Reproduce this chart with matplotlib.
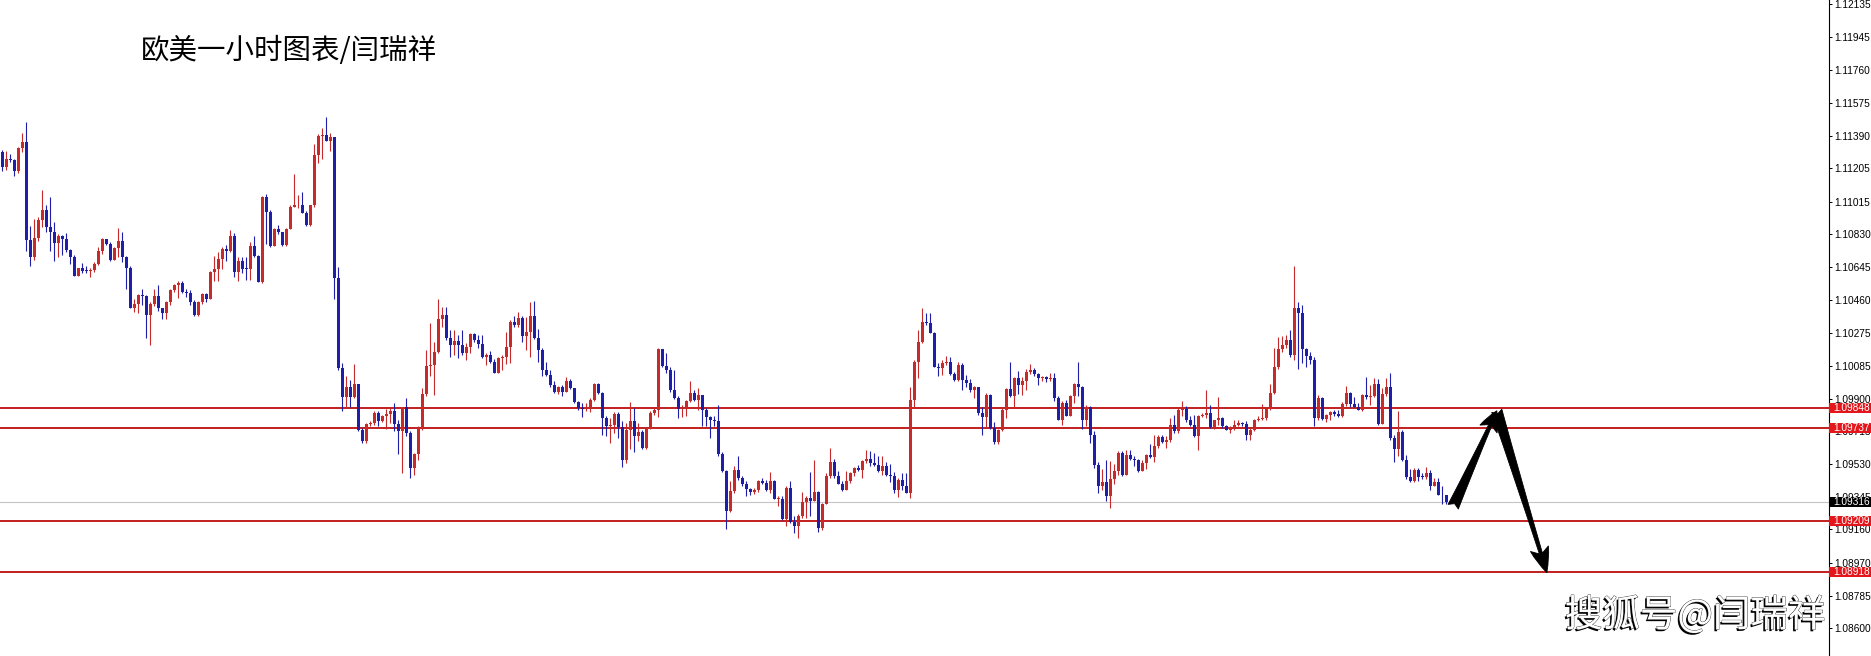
import matplotlib
matplotlib.use('Agg')
import matplotlib.pyplot as plt
import matplotlib.patheffects as pe
import matplotlib.transforms as mtransforms
from matplotlib.patches import Rectangle
import numpy as np

plt.rcParams['font.family'] = ['Noto Sans CJK SC', 'DejaVu Sans']

TITLE = '欧美一小时图表/闫瑞祥'
WATERMARK = '搜狐号@闫瑞祥'

# EURUSD H1 candles (open = previous close)
first_open = 1.11295
closes = [
    1.11214, 1.11257, 1.11251, 1.11191, 1.11317, 1.11355, 1.10796, 1.10702, 1.10811, 1.10909,
    1.10971, 1.10872, 1.10843, 1.10783, 1.10821, 1.10806, 1.10740, 1.10702, 1.10595, 1.10642,
    1.10623, 1.10621, 1.10627, 1.10665, 1.10736, 1.10802, 1.10778, 1.10687, 1.10755, 1.10791,
    1.10702, 1.10640, 1.10415, 1.10439, 1.10486, 1.10481, 1.10373, 1.10439, 1.10482, 1.10411,
    1.10388, 1.10449, 1.10514, 1.10546, 1.10558, 1.10505, 1.10496, 1.10449, 1.10373, 1.10449,
    1.10492, 1.10467, 1.10618, 1.10637, 1.10689, 1.10746, 1.10736, 1.10819, 1.10618, 1.10680,
    1.10637, 1.10633, 1.10764, 1.10708, 1.10561, 1.11041, 1.10956, 1.10764, 1.10862, 1.10843,
    1.10768, 1.10862, 1.10988, 1.10994, 1.10998, 1.10951, 1.10881, 1.10994, 1.11281, 1.11389,
    1.11392, 1.11360, 1.11383, 1.10586, 1.10073, 1.09909, 1.09969, 1.09909, 1.09984, 1.09721,
    1.09659, 1.09757, 1.09762, 1.09819, 1.09772, 1.09800, 1.09813, 1.09828, 1.09759, 1.09715,
    1.09851, 1.09706, 1.09509, 1.09589, 1.09734, 1.09928, 1.10086, 1.10091, 1.10163, 1.10349,
    1.10373, 1.10242, 1.10204, 1.10227, 1.10204, 1.10157, 1.10191, 1.10266, 1.10232, 1.10210,
    1.10135, 1.10148, 1.10110, 1.10048, 1.10129, 1.10138, 1.10191, 1.10336, 1.10317, 1.10355,
    1.10257, 1.10279, 1.10368, 1.10242, 1.10176, 1.10063, 1.10035, 1.09979, 1.09941, 1.09965,
    1.09941, 1.10001, 1.09960, 1.09879, 1.09847, 1.09841, 1.09856, 1.09894, 1.09982, 1.09935,
    1.09791, 1.09744, 1.09753, 1.09815, 1.09740, 1.09552, 1.09725, 1.09772, 1.09691, 1.09710,
    1.09621, 1.09734, 1.09819, 1.09834, 1.10180, 1.10086, 1.10063, 1.09950, 1.09903, 1.09843,
    1.09856, 1.09888, 1.09935, 1.09894, 1.09922, 1.09838, 1.09796, 1.09781, 1.09772, 1.09589,
    1.09490, 1.09264, 1.09377, 1.09499, 1.09452, 1.09420, 1.09390, 1.09371, 1.09386, 1.09437,
    1.09424, 1.09386, 1.09433, 1.09334, 1.09334, 1.09221, 1.09396, 1.09202, 1.09180, 1.09236,
    1.09315, 1.09339, 1.09321, 1.09371, 1.09170, 1.09307, 1.09462, 1.09542, 1.09462, 1.09420,
    1.09386, 1.09433, 1.09480, 1.09509, 1.09499, 1.09546, 1.09559, 1.09537, 1.09527, 1.09490,
    1.09518, 1.09471, 1.09462, 1.09386, 1.09443, 1.09405, 1.09368, 1.09894, 1.10110, 1.10223,
    1.10336, 1.10326, 1.10274, 1.10082, 1.10073, 1.10105, 1.10110, 1.10041, 1.10007, 1.10091,
    1.10007, 1.09988, 1.09947, 1.09965, 1.09819, 1.09796, 1.09922, 1.09734, 1.09653, 1.09725,
    1.09838, 1.09954, 1.09913, 1.10016, 1.09979, 1.10003, 1.10054, 1.10063, 1.10041, 1.10016,
    1.10022, 1.10011, 1.10020, 1.09903, 1.09781, 1.09875, 1.09804, 1.09917, 1.09984, 1.09965,
    1.09777, 1.09856, 1.09697, 1.09524, 1.09405, 1.09428, 1.09349, 1.09447, 1.09490, 1.09593,
    1.09471, 1.09584, 1.09559, 1.09552, 1.09490, 1.09537, 1.09584, 1.09571, 1.09631, 1.09683,
    1.09653, 1.09665, 1.09753, 1.09715, 1.09838, 1.09841, 1.09777, 1.09753, 1.09687, 1.09804,
    1.09809, 1.09819, 1.09740, 1.09777, 1.09791, 1.09744, 1.09725, 1.09738, 1.09753, 1.09762,
    1.09757, 1.09697, 1.09725, 1.09777, 1.09785, 1.09791, 1.09841, 1.09935, 1.10078, 1.10180,
    1.10204, 1.10232, 1.10148, 1.10411, 1.10387, 1.10180, 1.10142, 1.10120, 1.09791, 1.09903,
    1.09785, 1.09809, 1.09823, 1.09815, 1.09804, 1.09871, 1.09935, 1.09871, 1.09856, 1.09838,
    1.09922, 1.09909, 1.09917, 1.09984, 1.09759, 1.09928, 1.09965, 1.09678, 1.09616, 1.09710,
    1.09556, 1.09458, 1.09433, 1.09499, 1.09458, 1.09456, 1.09480, 1.09405, 1.09428, 1.09358,
    1.09353, 1.09316,
]
highs = [
    1.11308, 1.11304, 1.11285, 1.11255, 1.11323, 1.11407, 1.11468, 1.10877, 1.10915, 1.10928,
    1.11082, 1.10994, 1.11041, 1.10900, 1.10834, 1.10825, 1.10840, 1.10745, 1.10712, 1.10642,
    1.10669, 1.10652, 1.10640, 1.10674, 1.10759, 1.10810, 1.10806, 1.10787, 1.10759, 1.10866,
    1.10843, 1.10708, 1.10649, 1.10467, 1.10492, 1.10524, 1.10490, 1.10449, 1.10524, 1.10543,
    1.10415, 1.10454, 1.10524, 1.10552, 1.10565, 1.10565, 1.10524, 1.10518, 1.10458, 1.10454,
    1.10499, 1.10501, 1.10623, 1.10708, 1.10731, 1.10759, 1.10772, 1.10857, 1.10838, 1.10702,
    1.10702, 1.10702, 1.10787, 1.10819, 1.10716, 1.11050, 1.11060, 1.10966, 1.10866, 1.10881,
    1.10843, 1.10866, 1.10994, 1.11172, 1.11054, 1.11073, 1.10960, 1.10998, 1.11342, 1.11398,
    1.11432, 1.11492, 1.11404, 1.11383, 1.10646, 1.10101, 1.10026, 1.10007, 1.10097, 1.09984,
    1.09735, 1.09762, 1.09772, 1.09828, 1.09828, 1.09809, 1.09841, 1.09847, 1.09875, 1.09781,
    1.09856, 1.09903, 1.09715, 1.09593, 1.09744, 1.09960, 1.10176, 1.10326, 1.10223, 1.10467,
    1.10420, 1.10420, 1.10289, 1.10289, 1.10261, 1.10289, 1.10214, 1.10270, 1.10274, 1.10261,
    1.10261, 1.10157, 1.10172, 1.10123, 1.10135, 1.10148, 1.10279, 1.10345, 1.10368, 1.10392,
    1.10368, 1.10364, 1.10449, 1.10452, 1.10293, 1.10186, 1.10110, 1.10063, 1.10003, 1.09973,
    1.09979, 1.10022, 1.10010, 1.09960, 1.09885, 1.09875, 1.09875, 1.09903, 1.09988, 1.09992,
    1.09941, 1.09800, 1.09791, 1.09823, 1.09823, 1.09772, 1.09762, 1.09879, 1.09847, 1.09762,
    1.09721, 1.09740, 1.09828, 1.09847, 1.10185, 1.10172, 1.10157, 1.10078, 1.10063, 1.09917,
    1.09866, 1.09894, 1.10003, 1.09950, 1.09960, 1.09898, 1.09847, 1.09804, 1.09800, 1.09866,
    1.09597, 1.09499, 1.09434, 1.09522, 1.09574, 1.09465, 1.09434, 1.09396, 1.09396, 1.09443,
    1.09452, 1.09443, 1.09486, 1.09439, 1.09349, 1.09349, 1.09405, 1.09434, 1.09236, 1.09245,
    1.09371, 1.09349, 1.09484, 1.09552, 1.09377, 1.09311, 1.09477, 1.09621, 1.09559, 1.09490,
    1.09433, 1.09490, 1.09484, 1.09514, 1.09527, 1.09556, 1.09612, 1.09603, 1.09593, 1.09574,
    1.09578, 1.09541, 1.09533, 1.09484, 1.09452, 1.09477, 1.09480, 1.09969, 1.10120, 1.10289,
    1.10411, 1.10383, 1.10387, 1.10279, 1.10101, 1.10120, 1.10142, 1.10138, 1.10054, 1.10110,
    1.10101, 1.10035, 1.10011, 1.09973, 1.09969, 1.09856, 1.09935, 1.09926, 1.09766, 1.09729,
    1.09847, 1.09960, 1.10110, 1.10022, 1.10059, 1.10022, 1.10067, 1.10097, 1.10073, 1.10048,
    1.10029, 1.10029, 1.10048, 1.10048, 1.09913, 1.09885, 1.09894, 1.09922, 1.09988, 1.10110,
    1.09973, 1.09866, 1.09860, 1.09715, 1.09541, 1.09503, 1.09556, 1.09546, 1.09533, 1.09603,
    1.09603, 1.09612, 1.09612, 1.09574, 1.09559, 1.09556, 1.09590, 1.09646, 1.09697, 1.09697,
    1.09697, 1.09687, 1.09791, 1.09809, 1.09847, 1.09885, 1.09860, 1.09804, 1.09809, 1.09809,
    1.09819, 1.09947, 1.09866, 1.09781, 1.09909, 1.09796, 1.09753, 1.09747, 1.09777, 1.09777,
    1.09766, 1.09772, 1.09734, 1.09785, 1.09800, 1.09872, 1.09856, 1.09984, 1.10185, 1.10251,
    1.10255, 1.10261, 1.10289, 1.10650, 1.10449, 1.10430, 1.10185, 1.10167, 1.10135, 1.09922,
    1.09909, 1.09815, 1.09828, 1.09838, 1.09838, 1.09879, 1.09973, 1.09941, 1.09909, 1.09875,
    1.09928, 1.10022, 1.09979, 1.10016, 1.10011, 1.09960, 1.10016, 1.10044, 1.09697, 1.09828,
    1.09721, 1.09584, 1.09503, 1.09509, 1.09509, 1.09480, 1.09514, 1.09496, 1.09452, 1.09452,
    1.09405, 1.09358,
]
lows = [
    1.11187, 1.11197, 1.11242, 1.11159, 1.11176, 1.11295, 1.10736, 1.10652, 1.10687, 1.10793,
    1.10872, 1.10843, 1.10734, 1.10680, 1.10702, 1.10712, 1.10731, 1.10661, 1.10593, 1.10593,
    1.10612, 1.10612, 1.10590, 1.10618, 1.10659, 1.10721, 1.10772, 1.10680, 1.10684, 1.10702,
    1.10674, 1.10520, 1.10411, 1.10392, 1.10388, 1.10430, 1.10246, 1.10204, 1.10426, 1.10398,
    1.10351, 1.10351, 1.10430, 1.10505, 1.10471, 1.10501, 1.10477, 1.10430, 1.10370, 1.10370,
    1.10439, 1.10449, 1.10467, 1.10565, 1.10565, 1.10637, 1.10680, 1.10731, 1.10590, 1.10567,
    1.10612, 1.10571, 1.10571, 1.10702, 1.10561, 1.10556, 1.10774, 1.10759, 1.10764, 1.10834,
    1.10764, 1.10764, 1.10862, 1.10984, 1.10981, 1.10951, 1.10875, 1.10877, 1.10984, 1.11234,
    1.11257, 1.11360, 1.11304, 1.10467, 1.10063, 1.09828, 1.09856, 1.09856, 1.09903, 1.09716,
    1.09650, 1.09650, 1.09747, 1.09753, 1.09747, 1.09766, 1.09729, 1.09762, 1.09716, 1.09589,
    1.09480, 1.09687, 1.09452, 1.09471, 1.09556, 1.09725, 1.09913, 1.10026, 1.09922, 1.10157,
    1.10308, 1.10232, 1.10138, 1.10148, 1.10129, 1.10148, 1.10120, 1.10157, 1.10223, 1.10185,
    1.10129, 1.10091, 1.10105, 1.10044, 1.10044, 1.10063, 1.10097, 1.10105, 1.10308, 1.10308,
    1.10223, 1.10176, 1.10138, 1.10236, 1.10110, 1.10031, 1.10029, 1.09969, 1.09935, 1.09928,
    1.09917, 1.09954, 1.09954, 1.09875, 1.09834, 1.09796, 1.09828, 1.09823, 1.09885, 1.09928,
    1.09697, 1.09691, 1.09650, 1.09706, 1.09678, 1.09514, 1.09537, 1.09616, 1.09597, 1.09659,
    1.09616, 1.09618, 1.09728, 1.09809, 1.09796, 1.10082, 1.10044, 1.09941, 1.09898, 1.09791,
    1.09794, 1.09804, 1.09879, 1.09888, 1.09838, 1.09747, 1.09747, 1.09678, 1.09744, 1.09574,
    1.09484, 1.09165, 1.09259, 1.09368, 1.09443, 1.09405, 1.09349, 1.09358, 1.09362, 1.09371,
    1.09415, 1.09377, 1.09364, 1.09330, 1.09292, 1.09213, 1.09180, 1.09198, 1.09142, 1.09114,
    1.09227, 1.09227, 1.09236, 1.09321, 1.09146, 1.09157, 1.09302, 1.09452, 1.09452, 1.09415,
    1.09377, 1.09382, 1.09424, 1.09462, 1.09490, 1.09452, 1.09537, 1.09518, 1.09518, 1.09484,
    1.09471, 1.09465, 1.09428, 1.09368, 1.09345, 1.09386, 1.09364, 1.09339, 1.09856, 1.10016,
    1.10214, 1.10317, 1.10270, 1.10078, 1.10026, 1.10035, 1.10091, 1.10035, 1.10003, 1.10003,
    1.09947, 1.09965, 1.09941, 1.09903, 1.09809, 1.09697, 1.09740, 1.09729, 1.09646, 1.09646,
    1.09715, 1.09791, 1.09909, 1.09856, 1.09928, 1.09922, 1.09947, 1.10041, 1.10029, 1.09979,
    1.10003, 1.09997, 1.10003, 1.09885, 1.09777, 1.09753, 1.09800, 1.09800, 1.09875, 1.09913,
    1.09729, 1.09744, 1.09650, 1.09509, 1.09364, 1.09386, 1.09321, 1.09283, 1.09415, 1.09471,
    1.09465, 1.09559, 1.09552, 1.09518, 1.09484, 1.09503, 1.09503, 1.09565, 1.09541, 1.09621,
    1.09650, 1.09621, 1.09653, 1.09706, 1.09706, 1.09800, 1.09766, 1.09747, 1.09683, 1.09612,
    1.09796, 1.09791, 1.09734, 1.09729, 1.09753, 1.09734, 1.09721, 1.09706, 1.09721, 1.09744,
    1.09744, 1.09668, 1.09668, 1.09715, 1.09772, 1.09777, 1.09777, 1.09834, 1.09928, 1.10067,
    1.10167, 1.10185, 1.10138, 1.10120, 1.10067, 1.10101, 1.10078, 1.10097, 1.09747, 1.09781,
    1.09777, 1.09766, 1.09777, 1.09800, 1.09796, 1.09796, 1.09860, 1.09856, 1.09853, 1.09834,
    1.09828, 1.09898, 1.09866, 1.09909, 1.09753, 1.09759, 1.09917, 1.09668, 1.09541, 1.09574,
    1.09546, 1.09447, 1.09428, 1.09428, 1.09433, 1.09447, 1.09447, 1.09386, 1.09405, 1.09353,
    1.09302, 1.09302,
]

price_ticks = [1.12135, 1.11945, 1.11760, 1.11575, 1.11390, 1.11205, 1.11015, 1.10830,
               1.10645, 1.10460, 1.10275, 1.10085, 1.09900, 1.09715, 1.09530, 1.09345,
               1.09160, 1.08970, 1.08785, 1.08600]
levels = [1.09848, 1.09737, 1.09209, 1.08918]
last_price = 1.09316
# hand drawn forecast: up to resistance, then down
forecast_bar = [362.8, 373.7, 386.2]
forecast_price = [1.09289, 1.09832, 1.08916]

BULL = '#c72a2a'
BEAR = '#1e1ea8'
LEVEL_RED = '#c41e1e'
TAG_RED = '#e3161c'

n = min(len(closes), len(highs), len(lows))
closes = np.array(closes[:n])
opens = np.r_[first_open, closes[:-1]]
highs = np.maximum(np.array(highs[:n]), np.maximum(opens, closes))
lows = np.minimum(np.array(lows[:n]), np.minimum(opens, closes))
idx = np.arange(n)
colors = np.where(closes >= opens, BULL, BEAR)

fig = plt.figure(figsize=(18.71, 6.56), dpi=100)
ax = fig.add_axes([0, 0, 1829 / 1871, 1])
ax.set_xlim(-0.5, 456.75)
ax.set_ylim(1.08444, 1.12157)

ax.axhline(last_price, color='#c4c4c4', lw=0.8, zorder=1)
for lv in levels:
    ax.axhline(lv, color=LEVEL_RED, lw=1.4, zorder=2)

ax.vlines(idx, lows, highs, colors=colors, linewidth=0.8, zorder=3)
body_h = np.maximum(np.abs(closes - opens), 0.00005)
ax.bar(idx, body_h, bottom=np.minimum(opens, closes), width=0.75,
       color=colors, linewidth=0, zorder=4)

# forecast arrows
pts = list(zip(forecast_bar, forecast_price))
ax.annotate('', xy=pts[1], xytext=pts[0],
            arrowprops=dict(arrowstyle='fancy,head_length=0.8,head_width=0.75,tail_width=0.45',
                            mutation_scale=18, fc='black', ec='black', lw=0.6,
                            shrinkA=0, shrinkB=0), zorder=6)
ax.annotate('', xy=pts[2], xytext=pts[1],
            arrowprops=dict(arrowstyle='fancy,head_length=1.0,head_width=0.75,tail_width=0.42',
                            mutation_scale=18, fc='black', ec='black', lw=0.6,
                            shrinkA=0, shrinkB=0), zorder=6)

# axis on the right, MT4 style
for side in ['left', 'top', 'bottom']:
    ax.spines[side].set_visible(False)
ax.spines['right'].set_linewidth(0.8)
ax.set_xticks([])
ax.yaxis.tick_right()
ax.set_yticks(price_ticks)
ax.set_yticklabels(['%.5f' % t for t in price_ticks])
ax.tick_params(axis='y', direction='out', length=2.2, width=0.7, pad=1.5,
               labelsize=7.3, colors='black')
for lbl in ax.get_yticklabels():
    lbl.set_fontfamily('Liberation Sans')

# price tags on the axis
ytrans = ax.get_yaxis_transform()
txt_trans = mtransforms.offset_copy(ytrans, fig=fig, x=4, y=0, units='dots')
tag_h = 0.00056
for val, col in [(lv, TAG_RED) for lv in levels] + [(last_price, 'black')]:
    ax.add_patch(Rectangle((1.0, val - tag_h / 2), 0.03, tag_h, transform=ytrans,
                           facecolor=col, edgecolor='none', clip_on=False, zorder=7))
    ax.text(1.0, val, '%.5f' % val, transform=txt_trans, ha='left', va='center',
            color='white', fontsize=7.3, family='Liberation Sans', clip_on=False, zorder=8)

fig.text(141 / 1871, 1 - 51 / 656, TITLE, fontsize=20.5, va='center', ha='left', color='black')
fig.text(1565 / 1871, 1 - 616 / 656, WATERMARK, fontsize=27, va='center', ha='left',
         color='white',
         path_effects=[pe.SimplePatchShadow(offset=(-1.3, -1.3), shadow_rgbFace='black', alpha=1.0),
                       pe.Stroke(linewidth=0.6, foreground='#333333'),
                       pe.Normal()])

fig.savefig('out.png', dpi=100)
